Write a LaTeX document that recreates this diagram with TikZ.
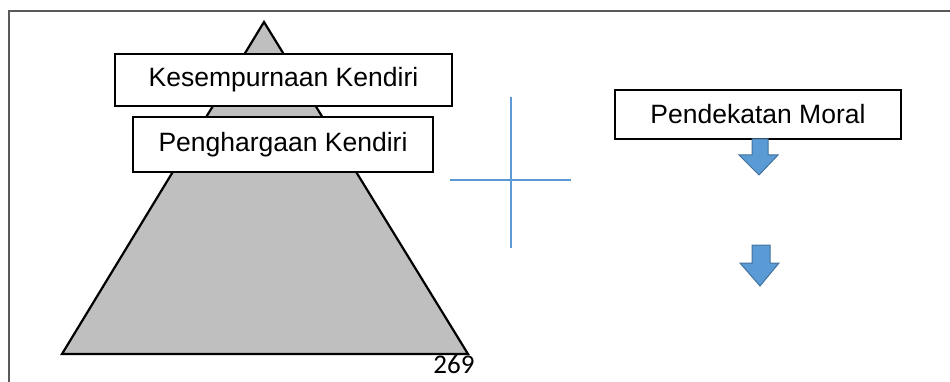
\documentclass[tikz,border=0pt]{standalone}
\usepackage{fontspec}
\setmainfont{Liberation Sans}
\newfontfamily\calib{Carlito}
\definecolor{pyr}{HTML}{BFBFBF}
\definecolor{accent}{HTML}{5B9BD5}
\definecolor{accentdark}{HTML}{41719C}
\definecolor{framegray}{HTML}{595959}
\tikzset{
  labelbox/.style={draw=black, line width=1.5pt, fill=white, inner sep=0pt, font=\fontsize{26.5}{30}\selectfont},
  blockarrow/.style={fill=accent, draw=accentdark, line width=1pt, line join=miter},
  crossline/.style={draw=accent, line width=1.2pt},
}
\begin{document}
\begin{tikzpicture}[x=1pt,y=-1pt]
\useasboundingbox (0,0) rectangle (950,382);
% page frame
\draw[framegray, line width=2pt] (950,11) -- (9,11) -- (9,382);
% pyramid
\coordinate (apex) at (264,22);
\coordinate (bl) at (62,354);
\coordinate (br) at (468,354);
\filldraw[fill=pyr, draw=black, line width=2.2pt] (apex) -- (br) -- (bl) -- cycle;
% boxes
\node[labelbox, minimum width=337pt, minimum height=52pt] (kes) at (283.5,80) {Kesempurnaan Kendiri};
\node[labelbox, minimum width=300pt, minimum height=55pt] (peng) at (283,144.5) {Penghargaan Kendiri};
\node[labelbox, minimum width=286pt, minimum height=49pt] (pend) at (758,114.5) {Pendekatan Moral};
% crosshair
\coordinate (cv1) at (511,97);
\coordinate (cv2) at (511,248);
\coordinate (ch1) at (450,180);
\coordinate (ch2) at (571,180);
\draw[crossline] (cv1) -- (cv2);
\draw[crossline] (ch1) -- (ch2);
% block arrows
\filldraw[blockarrow] (752,139) -- (768,139) -- (768,155) -- (778,155) -- (759,175) -- (739,155) -- (752,155) -- cycle;
\filldraw[blockarrow] (752,245) -- (770,245) -- (770,263) -- (779,263) -- (760,286) -- (740,263) -- (752,263) -- cycle;
% page number
\node[font=\calib\fontsize{27}{30}\selectfont, inner sep=0pt, anchor=base] (pg) at (454,373) {269};
\end{tikzpicture}
\end{document}
